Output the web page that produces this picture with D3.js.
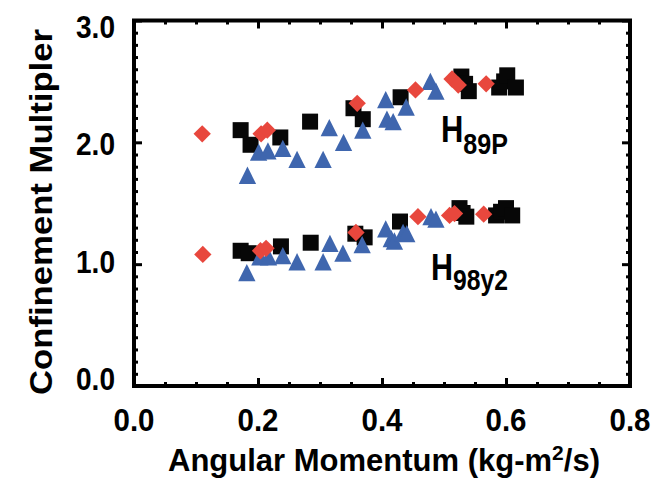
<!DOCTYPE html>
<html lang="en">
<head>
<meta charset="utf-8">
<title>Confinement Multiplier vs Angular Momentum</title>
<style>
  body { margin: 0; background: white; }
  svg { display: block; }
  text { font-family: "Liberation Sans", Arial, sans-serif; font-weight: bold; fill: #000; }
</style>
<script src="https://d3js.org/d3.v7.min.js"></script>
</head>
<body>
<script>
// data, [angular momentum, multiplier]
let squares89 = [[0.172, 2.10], [0.188, 1.98], [0.236, 2.04], [0.284, 2.17], [0.354, 2.28], [0.369, 2.19],
  [0.430, 2.37], [0.528, 2.54], [0.534, 2.48], [0.540, 2.42], [0.589, 2.45], [0.597, 2.50], [0.602, 2.55], [0.616, 2.45]]
let triangles89 = [[0.183, 1.73], [0.201, 1.92], [0.216, 1.93], [0.240, 1.95], [0.263, 1.86], [0.305, 1.86],
  [0.315, 2.12], [0.338, 2.00], [0.369, 2.10], [0.406, 2.35], [0.408, 2.19], [0.418, 2.17], [0.439, 2.29],
  [0.478, 2.50], [0.487, 2.42]]
let diamonds89 = [[0.110, 2.07], [0.205, 2.07], [0.215, 2.10], [0.360, 2.32], [0.454, 2.43], [0.513, 2.52],
  [0.523, 2.47], [0.568, 2.48]]

let squares98 = [[0.172, 1.11], [0.185, 1.09], [0.237, 1.146], [0.285, 1.176], [0.357, 1.25], [0.372, 1.22],
  [0.429, 1.35], [0.525, 1.46], [0.530, 1.42], [0.536, 1.39], [0.584, 1.40], [0.592, 1.43], [0.600, 1.46], [0.610, 1.40]]
let triangles98 = [[0.182, 0.93], [0.203, 1.06], [0.217, 1.06], [0.240, 1.07], [0.263, 1.02], [0.305, 1.02],
  [0.316, 1.17], [0.337, 1.09], [0.368, 1.16], [0.406, 1.29], [0.415, 1.21], [0.420, 1.19], [0.434, 1.26],
  [0.440, 1.25], [0.479, 1.39], [0.487, 1.37]]
let diamonds98 = [[0.111, 1.08], [0.204, 1.11], [0.213, 1.13], [0.358, 1.26], [0.458, 1.39], [0.509, 1.40],
  [0.517, 1.415], [0.564, 1.41]]

let xTicks = [0, 0.2, 0.4, 0.6, 0.8]
let yTicks = [0, 1, 2, 3]
let xMinor = [0.05, 0.1, 0.15, 0.25, 0.3, 0.35, 0.45, 0.5, 0.55, 0.65, 0.7, 0.75]
let yMinor = [0.1, 0.2, 0.3, 0.4, 0.5, 0.6, 0.7, 0.8, 0.9, 1.1, 1.2, 1.3, 1.4, 1.5, 1.6, 1.7, 1.8, 1.9,
  2.1, 2.2, 2.3, 2.4, 2.5, 2.6, 2.7, 2.8, 2.9]
let labels = [
  {main: "H", sub: "89P", x: 0.495, y: 2.006, len: 67, dy: 12},
  {main: "H", sub: "98y2", x: 0.479, y: 0.866, len: 77, dy: 10}
]

let width = 664
let height = 479
let padLeft = 134, padRight = 630, padTop = 20.5, padBottom = 386

let svg = d3.select("body").append("svg")
  .attr("width", width)
  .attr("height", height)

let x = d3.scaleLinear().domain([0, 0.8]).range([padLeft, padRight])
let y = d3.scaleLinear().domain([0, 3]).range([padBottom, padTop])
// the y labels sit a little off their ticks in the original
let yLabel = d3.scaleLinear().domain([0, 3]).range([390, 37.5])

// ticks on all four sides, pointing inwards
let tickAxis = (axis, vals, size, transform) => {
  let g = svg.append("g")
    .attr("transform", transform)
    .call(axis.tickValues(vals).tickSize(size).tickFormat(""))
  g.select(".domain").remove()
  g.selectAll("line").attr("stroke", "#000").attr("stroke-width", 3)
  return g
}
tickAxis(d3.axisBottom(x), xTicks, -8, `translate(0,${padBottom})`)
tickAxis(d3.axisBottom(x), xMinor, -4, `translate(0,${padBottom})`)
tickAxis(d3.axisTop(x), xTicks, -8, `translate(0,${padTop})`)
tickAxis(d3.axisTop(x), xMinor, -4, `translate(0,${padTop})`)
tickAxis(d3.axisLeft(y), yTicks, -8, `translate(${padLeft},0)`)
tickAxis(d3.axisLeft(y), yMinor, -4, `translate(${padLeft},0)`)
tickAxis(d3.axisRight(y), yTicks, -8, `translate(${padRight},0)`)
tickAxis(d3.axisRight(y), yMinor, -4, `translate(${padRight},0)`)

svg.append("rect")
  .attr("x", padLeft).attr("y", padTop)
  .attr("width", padRight - padLeft).attr("height", padBottom - padTop)
  .attr("fill", "none")
  .attr("stroke", "#000")
  .attr("stroke-width", 4)

// tick labels
svg.append("g").selectAll("text")
  .data(xTicks)
  .join("text")
  .attr("x", d => x(d))
  .attr("y", 431)
  .attr("text-anchor", "middle")
  .attr("font-size", 31)
  .attr("textLength", 41)
  .attr("lengthAdjust", "spacingAndGlyphs")
  .text(d => d.toFixed(1))

svg.append("g").selectAll("text")
  .data(yTicks)
  .join("text")
  .attr("x", 115)
  .attr("y", d => yLabel(d))
  .attr("text-anchor", "end")
  .attr("font-size", 31)
  .attr("textLength", 39)
  .attr("lengthAdjust", "spacingAndGlyphs")
  .text(d => d.toFixed(1))

// axis titles
let xTitle = svg.append("text")
  .attr("x", (padLeft + padRight) / 2 + 2)
  .attr("y", 471)
  .attr("text-anchor", "middle")
  .attr("font-size", 31)
  .attr("textLength", 432)
  .attr("lengthAdjust", "spacingAndGlyphs")
xTitle.append("tspan").text("Angular Momentum (kg-m")
xTitle.append("tspan").attr("font-size", 21).attr("dy", -11).text("2")
xTitle.append("tspan").attr("dy", 11).text("/s)")

svg.append("text")
  .attr("transform", "rotate(-90)")
  .attr("x", -212)
  .attr("y", 52)
  .attr("text-anchor", "middle")
  .attr("font-size", 32)
  .attr("textLength", 366)
  .attr("lengthAdjust", "spacingAndGlyphs")
  .text("Confinement Multipler")

// markers
let triangleType = {
  draw: (ctx, size) => {
    let h = Math.sqrt(size)
    ctx.moveTo(0, -h / 2)
    ctx.lineTo(h / 2, h / 2)
    ctx.lineTo(-h / 2, h / 2)
    ctx.closePath()
  }
}

let drawPoints = (data, type, size, color, rotate) => {
  svg.append("g").selectAll("path")
    .data(data)
    .join("path")
    .attr("d", d3.symbol().type(type).size(size))
    .attr("transform", d => `translate(${x(d[0])},${y(d[1])})` + (rotate ? " rotate(45)" : ""))
    .attr("fill", color)
}

drawPoints(squares89.concat(squares98), d3.symbolSquare, 256, "#070707", false)
drawPoints(triangles89.concat(triangles98), triangleType, 300, "#3f66ae", false)
drawPoints(diamonds89.concat(diamonds98), d3.symbolSquare, 150, "#e8473d", true)

// series labels
labels.forEach(l => {
  let t = svg.append("text")
    .attr("x", x(l.x))
    .attr("y", y(l.y))
    .attr("font-size", 37)
    .attr("textLength", l.len)
    .attr("lengthAdjust", "spacingAndGlyphs")
  t.append("tspan").text(l.main)
  t.append("tspan").attr("font-size", 30).attr("dy", l.dy).text(l.sub)
})
</script>
</body>
</html>
